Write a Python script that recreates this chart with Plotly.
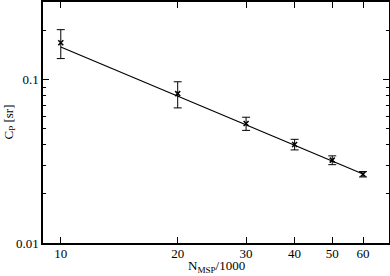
import plotly.graph_objects as go

# Data
n_msp = [10, 20, 30, 40, 50, 60]          # N_MSP / 1000
cp = [0.169, 0.0823, 0.054, 0.0402, 0.0322, 0.0264]  # C_P [sr]
cp_err = [0.034, 0.015, 0.005, 0.003, 0.002, 0.001]

fit_x = [10, 60]
fit_y = [0.159, 0.0265]

x_ticks = [10, 20, 30, 40, 50, 60]
x_tick_labels = ["10", "20", "30", "40", "50", "60"]
y_ticks = [0.01, 0.1]
y_tick_labels = ["0.01", "0.1"]
y_minor = [0.02, 0.03, 0.04, 0.05, 0.06, 0.07, 0.08, 0.09, 0.2]

x_title = "N<sub>MSP</sub>/1000"
y_title = "C<sub>P</sub> [sr]"

FONT = "Liberation Serif, Times New Roman, serif"

fig = go.Figure()
fig.add_trace(go.Scatter(
    x=fit_x, y=fit_y, mode="lines",
    line=dict(color="black", width=1.2), showlegend=False, hoverinfo="skip"))
fig.add_trace(go.Scatter(
    x=n_msp, y=cp, mode="markers",
    marker=dict(symbol="x-thin", size=5, color="black",
                line=dict(color="black", width=1.5)),
    error_y=dict(type="data", array=cp_err, visible=True,
                 color="black", thickness=1, width=4),
    showlegend=False))

fig.update_layout(
    width=390, height=276,
    margin=dict(l=43, r=1, t=2, b=33),
    paper_bgcolor="white", plot_bgcolor="white",
    font=dict(family=FONT, size=13, color="black"),
    xaxis=dict(
        type="log", range=[0.9542, 1.8451], automargin=False,
        tickvals=x_ticks, ticktext=x_tick_labels, ticklabelstandoff=-2,
        ticks="inside", ticklen=6, tickwidth=1, tickcolor="black",
        showline=True, linecolor="black", linewidth=1.5, mirror="ticks",
        showgrid=False, zeroline=False,
    ),
    yaxis=dict(
        type="log", range=[-2, -0.5229], automargin=False,
        tickvals=y_ticks, ticktext=y_tick_labels,
        ticks="inside", ticklen=6, tickwidth=1, tickcolor="black",
        minor=dict(tickvals=y_minor, ticks="inside", ticklen=3,
                   tickwidth=1, tickcolor="black", showgrid=False),
        showline=True, linecolor="black", linewidth=1.5, mirror="ticks",
        showgrid=False, zeroline=False,
    ),
    annotations=[
        dict(text=x_title, xref="paper", yref="paper", x=0.5, y=0,
             yshift=-23, xanchor="center", yanchor="middle",
             showarrow=False, font=dict(family=FONT, size=13)),
        dict(text=y_title, xref="paper", yref="paper", x=0, y=0.5,
             xshift=-34, xanchor="center", yanchor="middle", textangle=-90,
             showarrow=False, font=dict(family=FONT, size=13)),
    ],
)

fig.write_html(
    "out.html",
    config={"displayModeBar": False},
    post_script="document.body.style.margin='0px';document.body.style.overflow='hidden';",
)
